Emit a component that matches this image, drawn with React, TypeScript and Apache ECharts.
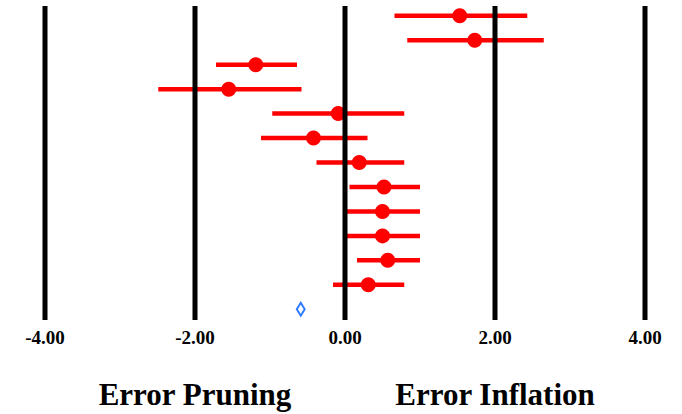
import React, { useEffect, useRef } from "react";
import * as echarts from "echarts";

// Row order top to bottom (index 0 = top row)
const means = [1.53, 1.73, -1.19, -1.55, -0.09, -0.42, 0.19, 0.52, 0.5, 0.5, 0.57, 0.31];
const lows = [0.66, 0.83, -1.72, -2.49, -0.97, -1.12, -0.38, 0.06, 0.0, 0.0, 0.16, -0.16];
const highs = [2.43, 2.65, -0.64, -0.58, 0.79, 0.3, 0.79, 1.0, 1.0, 1.0, 1.0, 0.79];
const overallValue = -0.59;
const overallRow = 12;
const gridValues = [-4, -2, 0, 2, 4];
const bottomLabels = ["Error Pruning", "Error Inflation"];
const bottomLabelAt = [-2, 2];

const FONT = '"Liberation Serif", "Times New Roman", serif';

export default function App() {
  const ref = useRef<HTMLDivElement>(null);
  useEffect(() => {
    if (!ref.current) return;
    const chart = echarts.init(ref.current, undefined, { renderer: "svg" });
    const gridLeft = 45;
    const gridRight = 37;
    const plotW = 682 - gridLeft - gridRight;
    const xToPx = (v: number) => gridLeft + ((v + 4) / 8) * plotW;

    const barData = means.map((_, i) => [i, lows[i], highs[i]]);
    const dotData = means.map((m, i) => [m, i]);

    chart.setOption({
      animation: false,
      backgroundColor: "#ffffff",
      grid: { left: gridLeft, right: gridRight, top: 6, bottom: 94 },
      xAxis: {
        type: "value",
        min: -4,
        max: 4,
        interval: 2,
        axisLine: { show: false },
        axisTick: { show: false },
        splitLine: { show: false },
        axisLabel: {
          formatter: (v: number) => v.toFixed(2),
          fontFamily: FONT,
          fontWeight: "bold",
          fontSize: 19,
          color: "#000",
          margin: 8,
        },
      },
      yAxis: {
        type: "value",
        inverse: true,
        min: -0.4,
        max: 12.44,
        show: false,
      },
      graphic: bottomLabels.map((t, i) => ({
        type: "text",
        x: xToPx(bottomLabelAt[i]),
        y: 394,
        style: {
          text: t,
          fontFamily: FONT,
          fontWeight: "bold",
          fontSize: 31,
          fill: "#000",
          align: "center",
          verticalAlign: "middle",
        },
      })),
      series: [
        {
          type: "custom",
          z: 2,
          data: barData,
          encode: { x: [1, 2], y: 0 },
          renderItem: (params: any, api: any) => {
            const y = api.value(0);
            const a = api.coord([api.value(1), y]);
            const b = api.coord([api.value(2), y]);
            return {
              type: "line",
              shape: { x1: a[0], y1: a[1], x2: b[0], y2: b[1] },
              style: { stroke: "#ff0000", lineWidth: 4.5 },
            };
          },
        },
        {
          type: "scatter",
          z: 3,
          data: dotData,
          symbol: "circle",
          symbolSize: 15,
          itemStyle: { color: "#ff0000", opacity: 1 },
        },
        {
          type: "scatter",
          z: 3,
          data: [[overallValue, overallRow]],
          symbol: "diamond",
          symbolSize: [8, 13],
          itemStyle: { color: "#ffffff", borderColor: "#2f7bff", borderWidth: 2, opacity: 1 },
        },
        {
          type: "custom",
          z: 10,
          data: gridValues.map((v) => [v]),
          encode: { x: 0 },
          renderItem: (params: any, api: any) => {
            const cs = params.coordSys;
            const x = api.coord([api.value(0), 0])[0];
            return {
              type: "line",
              shape: { x1: x, y1: cs.y, x2: x, y2: cs.y + cs.height },
              style: { stroke: "#000000", lineWidth: 5 },
            };
          },
        },
      ],
    });
    return () => chart.dispose();
  }, []);
  return (
    <div
      ref={ref}
      style={{ position: "fixed", left: 0, top: 0, width: 682, height: 414, background: "#fff" }}
    />
  );
}
